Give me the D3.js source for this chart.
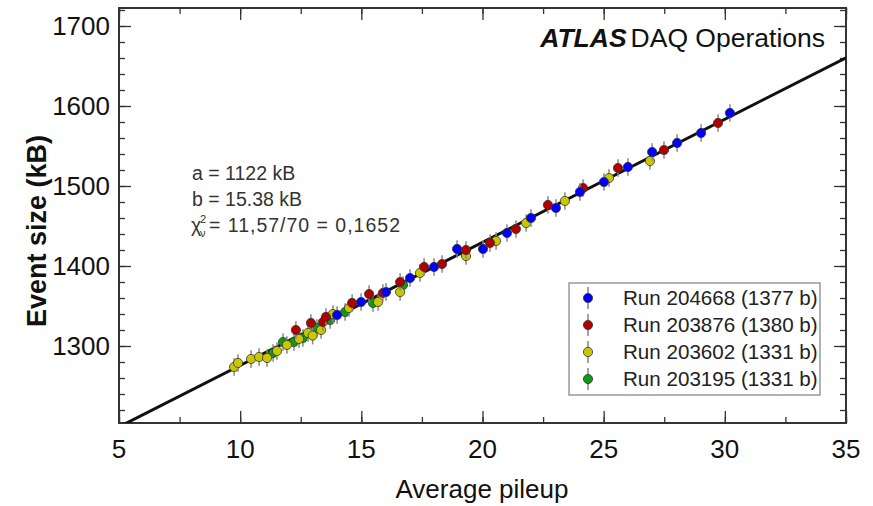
<!DOCTYPE html>
<html>
<head>
<meta charset="utf-8">
<script src="https://cdn.jsdelivr.net/npm/d3@7"></script>
<style>
  body { margin: 0; background: #fff; }
  text { font-family: "Liberation Sans", Arial, sans-serif; }
</style>
</head>
<body>
<svg width="873" height="506"></svg>
<script>
// fit parameters: size = a + b * pileup
const fitA = 1122;
const fitB = 15.38;
const sizeErr = 11;     // kB, vertical error bar half-length
const pileupErr = 0.15; // horizontal error bar half-length

// Run 204668 (blue)
const pileup204668 = [14.00, 14.99, 16.02, 17.01, 18.00, 18.95, 20.02, 21.01, 22.00, 23.03, 24.02, 25.01, 26.00, 27.00, 28.03, 29.02, 30.21];
const size204668   = [1338.8, 1355.0, 1367.5, 1385.0, 1398.8, 1421.3, 1421.3, 1441.3, 1460.0, 1472.5, 1492.5, 1505.0, 1523.8, 1542.5, 1553.8, 1566.3, 1591.3];

// Run 203876 (red)
const pileup203876 = [12.30, 12.92, 13.42, 13.54, 14.62, 15.32, 15.89, 16.60, 17.59, 18.33, 19.32, 20.31, 21.38, 22.70, 24.15, 25.59, 27.49, 29.72];
const size203876   = [1320.0, 1328.8, 1330.0, 1336.3, 1353.8, 1365.0, 1366.3, 1380.0, 1398.8, 1402.5, 1420.0, 1428.8, 1446.3, 1476.3, 1497.5, 1522.5, 1545.0, 1578.8];

// Run 203602 (yellow)
const pileup203602 = [9.75, 9.91, 10.45, 10.78, 11.11, 11.52, 11.93, 12.43, 12.80, 12.99, 13.34, 13.83, 14.49, 15.69, 16.60, 17.42, 19.32, 20.56, 21.80, 23.40, 25.22, 26.91];
const size203602   = [1273.8, 1278.8, 1283.8, 1286.3, 1285.0, 1293.8, 1301.3, 1308.8, 1316.3, 1313.0, 1320.0, 1340.0, 1347.5, 1355.0, 1367.5, 1391.3, 1412.5, 1431.3, 1453.8, 1481.3, 1510.0, 1531.3];

// Run 203195 (green)
const pileup203195 = [11.36, 11.77, 12.22, 12.59, 13.17, 13.71, 14.33, 15.48, 16.72];
const size203195   = [1291.3, 1305.0, 1305.0, 1310.0, 1322.5, 1332.5, 1342.5, 1353.8, 1376.3];

const runLabels = ["Run 204668 (1377 b)", "Run 203876 (1380 b)", "Run 203602 (1331 b)", "Run 203195 (1331 b)"];
const runColors = ["#0000ff", "#b00000", "#c8c800", "#119911"];
const runPileups = [pileup204668, pileup203876, pileup203602, pileup203195];
const runSizes = [size204668, size203876, size203602, size203195];

const xTicks = [5, 10, 15, 20, 25, 30, 35];
const yTicks = [1300, 1400, 1500, 1600, 1700];

const fitLines = ["a = 1122 kB", "b = 15.38 kB"];
const chiText = "= 11,57/70 = 0,1652";

const svg = d3.select("svg");
const plot = { left: 119, right: 846, top: 8, bottom: 423 };

const x = d3.scaleLinear().domain([5, 35]).range([plot.left, plot.right]);
const y = d3.scaleLinear().domain([1203.75, 1722.5]).range([plot.bottom, plot.top]);

svg.append("clipPath").attr("id", "clip")
  .append("rect")
  .attr("x", plot.left).attr("y", plot.top)
  .attr("width", plot.right - plot.left).attr("height", plot.bottom - plot.top);

// axes with inward ticks on all four sides
const tickColor = "#333";
function ticks(axis, pos, major, minor) {
  const g = svg.append("g").attr("transform", pos);
  g.call(axis.tickValues(minor).tickSize(-6).tickFormat(""));
  g.append("g").call(axis.tickValues(major).tickSize(-12).tickFormat(""));
  g.selectAll(".domain").remove();
  g.selectAll("line").attr("stroke", tickColor).attr("stroke-width", 1.3);
  return g;
}
const xMinor = d3.range(5, 35.01, 2.5);
const yMinor = d3.range(1220, 1721, 20);
ticks(d3.axisBottom(x), `translate(0,${plot.bottom})`, xTicks, xMinor);
ticks(d3.axisTop(x), `translate(0,${plot.top})`, xTicks, xMinor);
ticks(d3.axisLeft(y), `translate(${plot.left},0)`, yTicks, yMinor);
ticks(d3.axisRight(y), `translate(${plot.right},0)`, yTicks, yMinor);

svg.append("rect")
  .attr("x", plot.left).attr("y", plot.top)
  .attr("width", plot.right - plot.left).attr("height", plot.bottom - plot.top)
  .attr("fill", "none").attr("stroke", "#333").attr("stroke-width", 2);

// tick labels
svg.append("g").selectAll("text").data(xTicks).enter().append("text")
  .attr("x", d => x(d)).attr("y", 458)
  .attr("text-anchor", "middle").attr("font-size", 26).attr("fill", "#111")
  .text(d => d);
svg.append("g").selectAll("text").data(yTicks).enter().append("text")
  .attr("x", 110).attr("y", d => y(d) + 9)
  .attr("text-anchor", "end").attr("font-size", 26).attr("fill", "#111")
  .text(d => d);

// axis titles
svg.append("text").attr("x", 482).attr("y", 498)
  .attr("text-anchor", "middle").attr("font-size", 26).attr("fill", "#111")
  .text("Average pileup");
svg.append("text")
  .attr("transform", "translate(46,231) rotate(-90)")
  .attr("text-anchor", "middle").attr("font-size", 27).attr("font-weight", "bold").attr("fill", "#111")
  .text("Event size (kB)");

// fit line
svg.append("line")
  .attr("clip-path", "url(#clip)")
  .attr("x1", x(5)).attr("y1", y(fitA + fitB * 5))
  .attr("x2", x(35)).attr("y2", y(fitA + fitB * 35))
  .attr("stroke", "#111").attr("stroke-width", 3);

// data points
const points = [];
runPileups.forEach((px, i) => px.forEach((p, j) => points.push({ run: i, p: p, s: runSizes[i][j] })));
const order = [3, 2, 1, 0];
points.sort((a, b) => order.indexOf(a.run) - order.indexOf(b.run));

const pts = svg.append("g").attr("clip-path", "url(#clip)")
  .selectAll("g").data(points).enter().append("g");
pts.append("line")
  .attr("x1", d => x(d.p)).attr("x2", d => x(d.p))
  .attr("y1", d => y(d.s - sizeErr)).attr("y2", d => y(d.s + sizeErr))
  .attr("stroke", "#888").attr("stroke-width", 1.5);
pts.append("line")
  .attr("x1", d => x(d.p - pileupErr)).attr("x2", d => x(d.p + pileupErr))
  .attr("y1", d => y(d.s)).attr("y2", d => y(d.s))
  .attr("stroke", "#888").attr("stroke-width", 1.5);
pts.append("circle")
  .attr("cx", d => x(d.p)).attr("cy", d => y(d.s)).attr("r", 4.6)
  .attr("fill", d => runColors[d.run])
  .attr("stroke", "#333").attr("stroke-width", 0.8);

// ATLAS label
const title = svg.append("text").attr("x", 825).attr("y", 47)
  .attr("text-anchor", "end").attr("font-size", 26.5).attr("fill", "#111");
title.append("tspan").attr("font-weight", "bold").attr("font-style", "italic").text("ATLAS");
title.append("tspan").attr("dx", 4).text("DAQ Operations");

// fit annotation
svg.append("g").selectAll("text").data(fitLines).enter().append("text")
  .attr("x", 192).attr("y", (d, i) => 180 + i * 26)
  .attr("font-size", 19.5).attr("fill", "#333")
  .text(d => d);
svg.append("text").attr("x", 191).attr("y", 232).attr("font-size", 19.5).attr("fill", "#333").text("χ");
svg.append("text").attr("x", 200).attr("y", 223).attr("font-size", 11).attr("fill", "#333").text("2");
svg.append("text").attr("x", 200).attr("y", 237).attr("font-size", 11).attr("fill", "#333").text("ν");
svg.append("text").attr("x", 209).attr("y", 232).attr("font-size", 19.5).attr("fill", "#333")
  .attr("textLength", 191).attr("lengthAdjust", "spacing")
  .text(chiText);

// legend
const legend = svg.append("g");
legend.append("rect")
  .attr("x", 569).attr("y", 283).attr("width", 251).attr("height", 112)
  .attr("fill", "#fff").attr("stroke", "#999").attr("stroke-width", 1.5);
const rows = legend.selectAll("g.row").data(runLabels).enter().append("g")
  .attr("class", "row")
  .attr("transform", (d, i) => `translate(588,${298 + i * 27})`);
rows.append("line").attr("y1", -11).attr("y2", 11).attr("stroke", "#666").attr("stroke-width", 1.2);
rows.append("circle").attr("r", 4.6)
  .attr("fill", (d, i) => runColors[i]).attr("stroke", "#333").attr("stroke-width", 0.8);
rows.append("text").attr("x", 35).attr("y", 7)
  .attr("font-size", 20.6).attr("fill", "#222")
  .text(d => d);
</script>
</body>
</html>
